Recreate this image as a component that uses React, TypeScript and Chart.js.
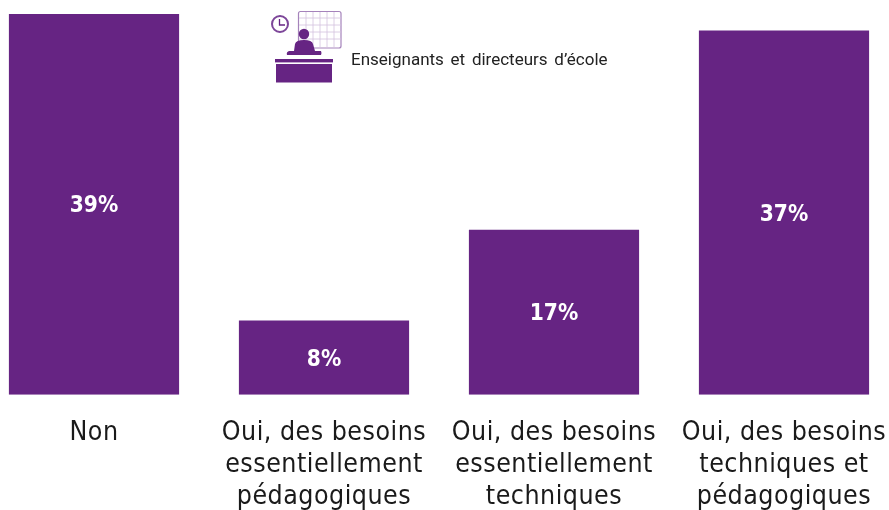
import React, { useEffect, useRef } from "react";
import { Chart, registerables } from "chart.js";
Chart.register(...registerables);

const categories = [
  ["Non"],
  ["Oui, des besoins", "essentiellement", "pédagogiques"],
  ["Oui, des besoins", "essentiellement", "techniques"],
  ["Oui, des besoins", "techniques et", "pédagogiques"],
];
const values = [39, 7.6, 16.9, 37.3];
const valueLabels = ["39%", "8%", "17%", "37%"];
const legendText = "Enseignants et directeurs d’école";

const textSpacing = {
  id: "textSpacing",
  beforeDraw(chart: any) {
    chart.ctx.letterSpacing = "0.5px";
  },
  beforeDatasetsDraw(chart: any) {
    chart.ctx.letterSpacing = "0px";
  },
};

const inlineLabels = {
  id: "inlineLabels",
  afterDatasetsDraw(chart: any) {
    const { ctx } = chart;
    const meta = chart.getDatasetMeta(0);
    ctx.save();
    ctx.fillStyle = "#ffffff";
    ctx.font = "bold 22.5px 'DejaVu Sans Condensed', 'DejaVu Sans'";
    ctx.textAlign = "center";
    ctx.textBaseline = "middle";
    meta.data.forEach((bar: any, i: number) => {
      ctx.fillText(valueLabels[i], bar.x, (bar.y + bar.base) / 2 + 2);
    });
    ctx.restore();
  },
};

function Icon() {
  const c = "#662483";
  const g = "#d3c2de";
  return (
    <svg width="74" height="74" style={{ position: "absolute", left: 270, top: 10 }} viewBox="270 10 74 74">
      <rect x="298.5" y="11.5" width="42.5" height="36.5" fill="#fff" stroke="#a583bb" strokeWidth="1.2" rx="2" />
      {[306, 313, 320, 327, 334].map((x) => <line key={x} x1={x} y1="12" x2={x} y2="48" stroke={g} strokeWidth="0.8" />)}
      {[18, 25, 32, 39].map((y) => <line key={y} x1="299" y1={y} x2="341" y2={y} stroke={g} strokeWidth="0.8" />)}
      <circle cx="280" cy="24" r="8" fill="#fff" stroke="#7d4699" strokeWidth="2" />
      <path d="M279.5 19V25H285" fill="none" stroke={c} strokeWidth="1.3" />
      <circle cx="304" cy="34" r="5.2" fill={c} />
      <path d="M294 51 L295 44 Q296 40 304 40 Q312 40 313 44 L315 51 L321 51 Q322 53 321 55 L287 55 Q286 52 289 51 Z" fill={c} />
      <rect x="275" y="59" width="58" height="3.4" fill={c} />
      <rect x="276" y="64" width="56" height="18.5" fill={c} />
    </svg>
  );
}

export default function App() {
  const ref = useRef<HTMLCanvasElement>(null);
  useEffect(() => {
    const chart = new Chart(ref.current!, {
      type: "bar",
      data: {
        labels: categories,
        datasets: [{ data: values, backgroundColor: "#662483", barPercentage: 1, categoryPercentage: 0.74 }],
      },
      options: {
        animation: false,
        responsive: false,
        layout: { padding: { left: 0, right: 0, top: 14, bottom: 0 } },
        plugins: { legend: { display: false }, tooltip: { enabled: false } },
        scales: {
          x: {
            grid: { display: false },
            border: { display: false },
            ticks: { color: "#1a1a1a", font: { family: "'DejaVu Sans Condensed', 'DejaVu Sans'", size: 26.5, lineHeight: 1.21 }, maxRotation: 0, autoSkip: false, padding: 14 },
          },
          y: { display: false, min: 0, max: 39 },
        },
      },
      plugins: [textSpacing, inlineLabels],
    });
    return () => chart.destroy();
  }, []);
  return (
    <div style={{ position: "absolute", left: 0, top: 0, width: 889, height: 510, background: "#fff", overflow: "hidden" }}>
      <canvas ref={ref} width={920} height={527} style={{ display: "block", position: "absolute", left: -21, top: 0 }} />
      <Icon />
      <div style={{ position: "absolute", left: 351, top: 49, fontFamily: "Roboto", fontSize: 17, wordSpacing: 2.5, color: "#222", whiteSpace: "nowrap" }}>{legendText}</div>
    </div>
  );
}
